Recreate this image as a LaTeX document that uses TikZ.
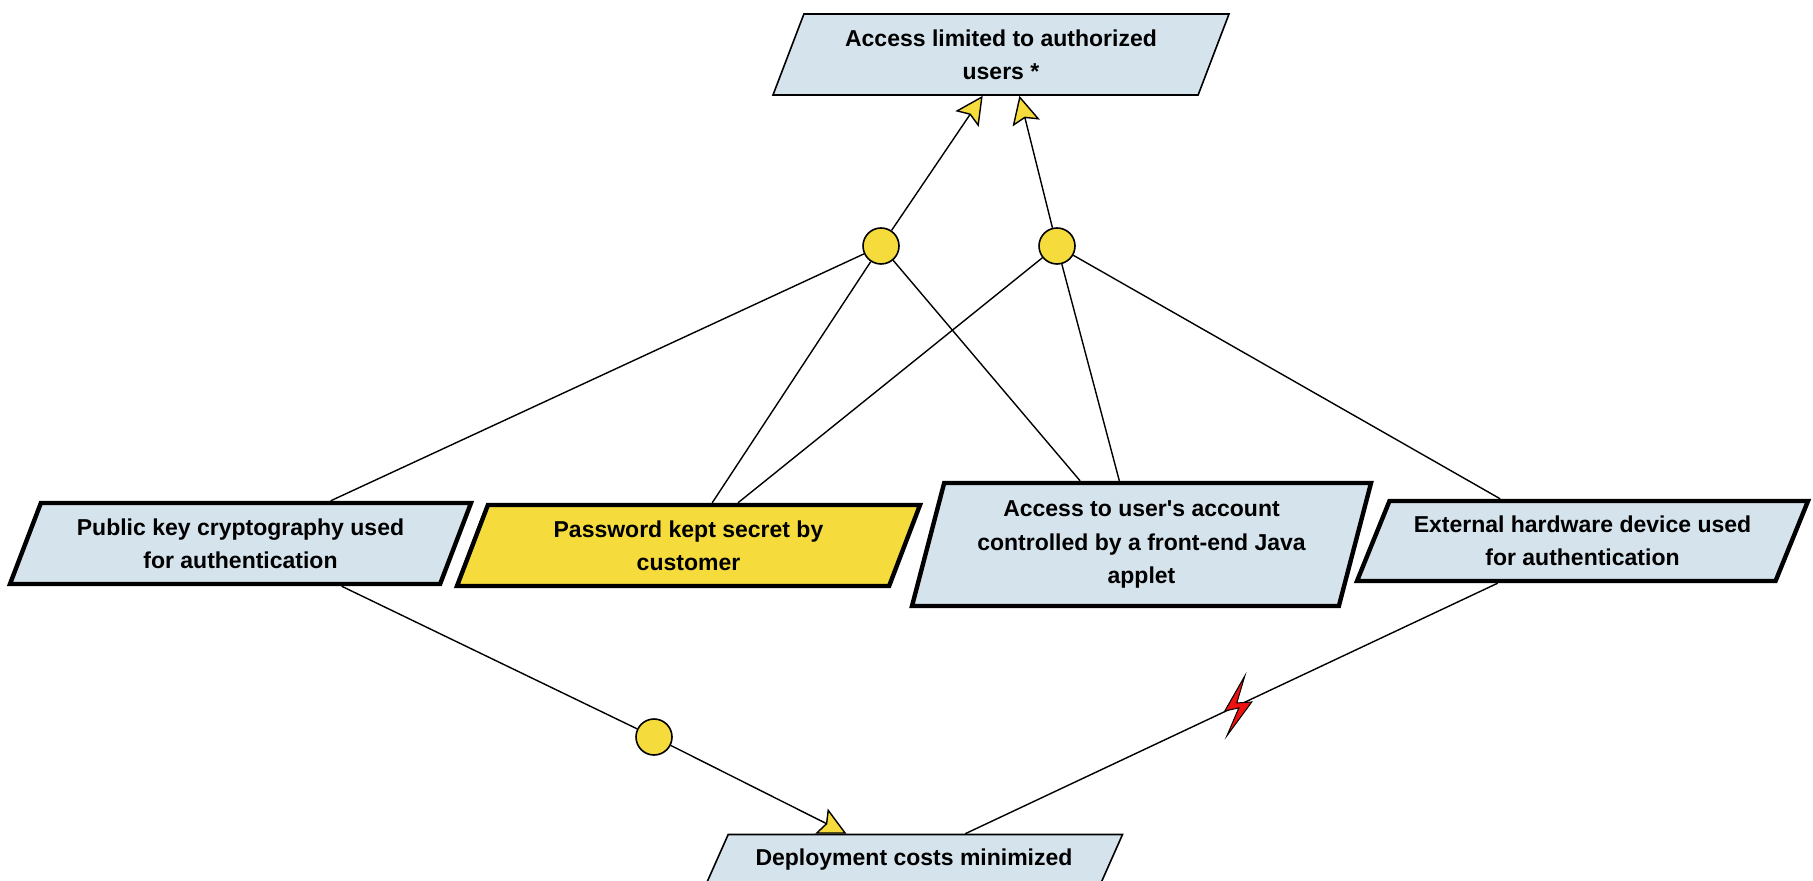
\documentclass[tikz,border=0pt]{standalone}
\usepackage{fontspec}
\setmainfont{Liberation Sans}
\usetikzlibrary{shapes.geometric,arrows.meta,calc,backgrounds}
\definecolor{softblue}{HTML}{D5E3EC}
\definecolor{goldfill}{HTML}{F5DC3C}
\definecolor{boltred}{HTML}{EE1111}
\begin{document}
\begin{tikzpicture}[x=0.5pt,y=-0.5pt,
		goal/.style={shape=trapezium,draw=black,fill=softblue,line width=0.8pt,align=center,
			font=\bfseries\fontsize{11.5}{16.6}\selectfont,trapezium stretches body,inner xsep=4pt,inner ysep=2pt},
		task/.style={goal,line width=2.2pt},
		link/.style={draw=black,line width=0.7pt},
		contrib/.style={link,-{Stealth[length=14pt,width=14pt,inset=2.5pt,fill=goldfill]}},
		junction/.style={shape=circle,draw=black,fill=goldfill,line width=0.8pt,minimum size=18pt,inner sep=0pt}]
	\useasboundingbox (0,0) rectangle (1813,881);

		\node[goal,trapezium left angle=62,trapezium right angle=118,minimum height=40.5pt,minimum width=228pt] (G) at (1001,54.5) {Access limited to authorized\\users *};
		\node[task,trapezium left angle=62,trapezium right angle=118,minimum height=40.5pt,minimum width=230.5pt] (K) at (240.5,543.5) {Public key cryptography used\\for authentication};
		\node[task,fill=goldfill,trapezium left angle=62,trapezium right angle=118,minimum height=40.5pt,minimum width=231.5pt] (P) at (688.5,545.5) {Password kept secret by\\customer};
		\node[task,trapezium left angle=71.3,trapezium right angle=108.7,minimum height=61.5pt,minimum width=229.5pt] (J) at (1141.5,544.5) {Access to user\textquotesingle s account\\controlled by a front-end Java\\applet};
		\node[task,trapezium left angle=60.8,trapezium right angle=119.2,minimum height=40pt,minimum width=225.5pt] (H) at (1582.5,541) {External hardware device used\\for authentication};
		\node[goal,trapezium left angle=52.4,trapezium right angle=127.6,minimum height=25.5pt,minimum width=208.5pt] (D) at (914,860) {Deployment costs minimized};

		\node[junction] (C1) at (881,246) {};
		\node[junction] (C2) at (1057,246) {};
		\node[junction] (C3) at (654,737) {};

		\begin{pgfonlayer}{background}
		\draw[contrib] (C1) -- ($(G.bottom left corner)!0.494!(G.bottom right corner)$);
		\draw[contrib] (C2) -- ($(G.bottom left corner)!0.58!(G.bottom right corner)$);
		\draw[link] ($(K.top left corner)!0.67!(K.top right corner)$) -- (C1);
		\draw[link] ($(P.top left corner)!0.517!(P.top right corner)$) -- (C1);
		\draw[link] ($(J.top left corner)!0.319!(J.top right corner)$) -- (C1);
		\draw[link] ($(P.top left corner)!0.576!(P.top right corner)$) -- (C2);
		\draw[link] ($(J.top left corner)!0.41!(J.top right corner)$) -- (C2);
		\draw[link] ($(H.top left corner)!0.265!(H.top right corner)$) -- (C2);
		\draw[link] ($(K.bottom left corner)!0.77!(K.bottom right corner)$) -- (C3);
		\draw[contrib] (C3) -- ($(D.top left corner)!0.30!(D.top right corner)$);
		\draw[link] ($(H.bottom left corner)!0.34!(H.bottom right corner)$) -- coordinate[pos=0.49] (Z) ($(D.top left corner)!0.60!(D.top right corner)$);
		\end{pgfonlayer}

		\draw[fill=boltred,draw=black,line width=0.5pt,shift={(Z)}] (8,-30) -- (-12,5) -- (2,2) -- (-10,30) -- (15,-4) -- (0,-3) -- cycle;

\end{tikzpicture}
\end{document}
